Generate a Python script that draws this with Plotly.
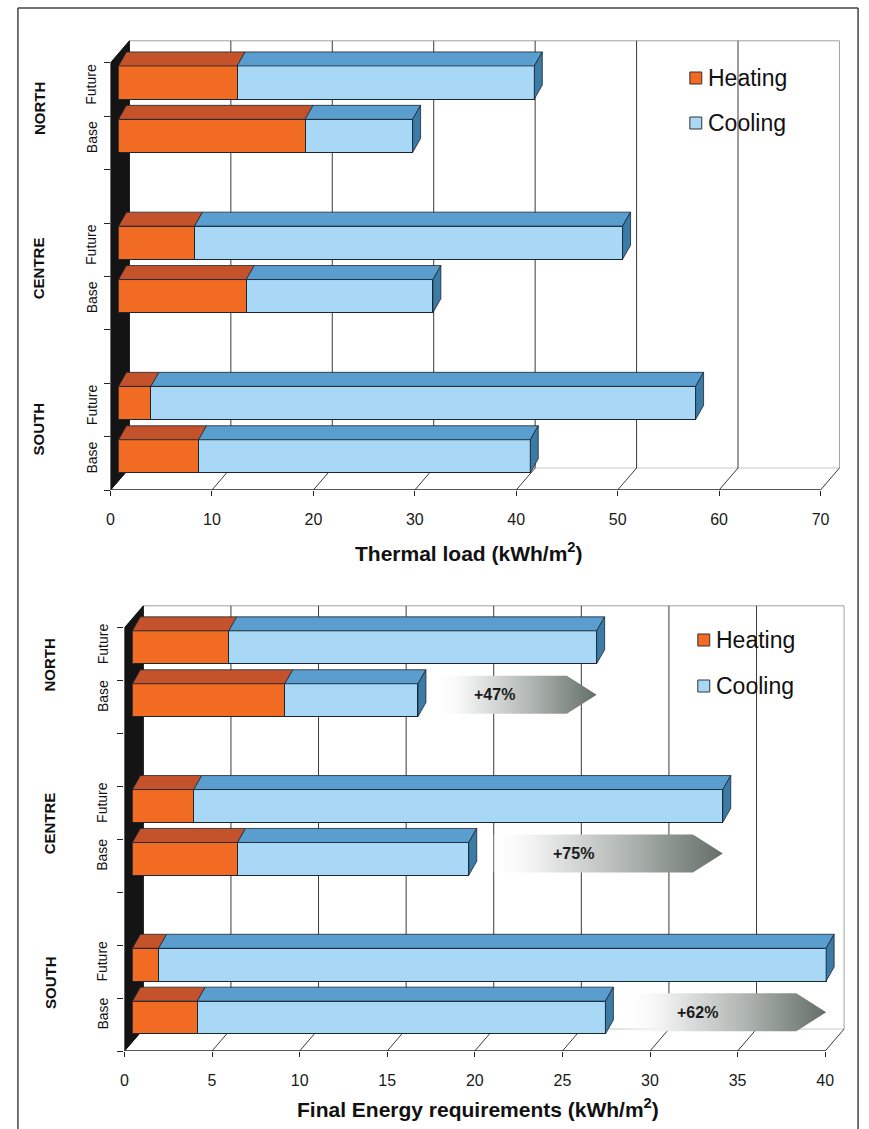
import plotly.graph_objects as go

W, H = 869, 1129

# Categories, listed bottom to top
regions = ["SOUTH", "CENTRE", "NORTH"]
scenarios = ["Base", "Future"]
series_names = ["Heating", "Cooling"]

# Thermal load (kWh/m2); order: SOUTH Base, SOUTH Future, CENTRE Base, CENTRE Future, NORTH Base, NORTH Future
load_heating = [7.9, 3.2, 12.6, 7.5, 18.4, 11.7]
load_cooling = [32.7, 53.7, 18.4, 42.2, 10.6, 29.3]

# Final energy requirements (kWh/m2), same order
energy_heating = [3.7, 1.5, 6.0, 3.5, 8.7, 5.5]
energy_cooling = [23.3, 38.1, 13.2, 30.2, 7.6, 21.0]

# Base -> Future increase labels (SOUTH, CENTRE, NORTH)
increase_labels = ["+62%", "+75%", "+47%"]

load_ticks = [0, 10, 20, 30, 40, 50, 60, 70]
energy_ticks = [0, 5, 10, 15, 20, 25, 30, 35, 40]

FONT = "Liberation Sans, Arial, sans-serif"
C = dict(
    heat_front="#F26B22", heat_top="#C4532C",
    cool_front="#A8D8F6", cool_top="#5A9ECF", cool_side="#3A7CA6",
    edge="#1c2630", wall="#141414", grid="#3a3a3a", light="#a0a0a0",
)


def fx(px):
    return px / W


def fy(py):
    return 1 - py / H


panels = [
    dict(front=("x", "y"), bars=("x2", "y2"), ox=107, oy=490, ppu=10.19, slot=53.4,
         ticks=load_ticks, heating=load_heating, cooling=load_cooling,
         title="Thermal load (kWh/m<sup>2</sup>)", title_xy=(467, 552),
         legend_xy=(695, 78, 123), lab_x=(35, 88), reg_off=1.15, sc_off=0.6),
    dict(front=("x3", "y3"), bars=("x4", "y4"), ox=121, oy=1051, ppu=17.6, slot=52.9,
         ticks=energy_ticks, heating=energy_heating, cooling=energy_cooling,
         title="Final Energy requirements (kWh/m<sup>2</sup>)", title_xy=(476, 1108),
         legend_xy=(703, 640, 686), lab_x=(46, 99), reg_off=1.3, sc_off=0.7),
]

BAR_DX, BAR_DY = 8, 7        # front face of bars vs. front plane (px)
FACE_DX, FACE_DY = 8, 14     # depth of a bar (px)
WALL_DX, WALL_DY = 19, 22    # depth of the chart box (px)
NSLOT = 8
YR = 8.5
BW = 0.62

pos = [3 * g + s + 0.5 for g in range(len(regions)) for s in range(len(scenarios))]

fig = go.Figure()
shapes, annotations = [], []
layout_axes = {}


def axname(ref):
    return ("xaxis" if ref[0] == "x" else "yaxis") + ref[1:]


for pi, P in enumerate(panels):
    fxr, fyr = P["front"]
    bxr, byr = P["bars"]
    ppu, slot, ox, oy = P["ppu"], P["slot"], P["ox"], P["oy"]
    xmax = P["ticks"][-1]
    xr = xmax + (WALL_DX + 3) / ppu
    xr_bar = xr - BAR_DX / ppu

    layout_axes[axname(fxr)] = dict(
        domain=[fx(ox), fx(ox + xr * ppu)], range=[0, xr], anchor=fyr,
        tickvals=P["ticks"], ticks="outside", ticklen=5, tickcolor="#222",
        tickfont=dict(family=FONT, size=16, color="#1a1a1a"), ticklabelstandoff=10,
        showgrid=False, zeroline=False, showline=False, fixedrange=True)
    layout_axes[axname(fyr)] = dict(
        domain=[fy(oy), fy(oy - YR * slot)], range=[0, YR], anchor=fxr,
        tickvals=list(range(NSLOT + 1)), showticklabels=False,
        ticks="outside", ticklen=6, tickcolor="#222",
        showgrid=False, zeroline=False, showline=False, fixedrange=True)
    layout_axes[axname(bxr)] = dict(
        domain=[fx(ox + BAR_DX), fx(ox + BAR_DX + xr_bar * ppu)], range=[0, xr_bar],
        anchor=byr, visible=False, showticklabels=False, fixedrange=True)
    layout_axes[axname(byr)] = dict(
        domain=[fy(oy - BAR_DY), fy(oy - BAR_DY - YR * slot)], range=[0, YR],
        anchor=bxr, visible=False, showticklabels=False, fixedrange=True)

    wdx, wdy = WALL_DX / ppu, WALL_DY / slot

    def fl(x0, y0, x1, y1, color, width=1, layer="below"):
        shapes.append(dict(type="line", xref=fxr, yref=fyr, x0=x0, y0=y0, x1=x1, y1=y1,
                           line=dict(color=color, width=width), layer=layer))

    # back wall: top and floor edges, gridlines
    fl(wdx, NSLOT + wdy, xmax + wdx, NSLOT + wdy, C["light"])
    fl(wdx, wdy, xmax + wdx, wdy, "#c8c8c8")
    for t in P["ticks"][1:]:
        fl(t + wdx, wdy, t + wdx, NSLOT + wdy, C["light"] if t == xmax else C["grid"])
    # floor: depth lines from every tick, front edge
    for t in P["ticks"]:
        fl(t, 0, t + wdx, wdy, C["grid"])
    fl(0, 0, xmax, 0, "#222", width=1.3)
    # left side wall
    shapes.append(dict(type="path", xref=fxr, yref=fyr, layer="below",
                       path=f"M 0,0 L 0,{NSLOT} L {wdx},{NSLOT + wdy} L {wdx},{wdy} Z",
                       fillcolor=C["wall"], line=dict(color=C["wall"], width=1)))

    # stacked bars (front faces)
    for name, vals, col in [("Heating", P["heating"], C["heat_front"]),
                            ("Cooling", P["cooling"], C["cool_front"])]:
        fig.add_trace(go.Bar(
            x=vals, y=pos, orientation="h", width=BW, name=name,
            marker=dict(color=col, line=dict(color=C["edge"], width=1)),
            xaxis=bxr, yaxis=byr, showlegend=False, hoverinfo="x+name"))

    # top and side faces of each bar
    ddx, ddy = FACE_DX / ppu, FACE_DY / slot
    for i, p in enumerate(pos):
        h, c = P["heating"][i], P["cooling"][i]
        yt, yb = p + BW / 2, p - BW / 2
        for a, b, col in [(0, h, C["heat_top"]), (h, h + c, C["cool_top"])]:
            shapes.append(dict(
                type="path", xref=bxr, yref=byr, layer="above",
                path=f"M {a},{yt} L {b},{yt} L {b + ddx},{yt + ddy} L {a + ddx},{yt + ddy} Z",
                fillcolor=col, line=dict(color=C["edge"], width=0.8)))
        e = h + c
        shapes.append(dict(
            type="path", xref=bxr, yref=byr, layer="above",
            path=f"M {e},{yb} L {e},{yt} L {e + ddx},{yt + ddy} L {e + ddx},{yb + ddy} Z",
            fillcolor=C["cool_side"], line=dict(color=C["edge"], width=0.8)))

    # category labels
    rx, sx = P["lab_x"]
    for g, reg in enumerate(regions):
        annotations.append(dict(
            text=f"<b>{reg}</b>", xref="paper", x=fx(rx), yref=fyr, y=3 * g + P["reg_off"],
            textangle=-90, showarrow=False, xanchor="center", yanchor="middle",
            font=dict(family=FONT, size=15, color="#111")))
        for s, sc in enumerate(scenarios):
            annotations.append(dict(
                text=sc, xref="paper", x=fx(sx), yref=fyr, y=3 * g + s + P["sc_off"],
                textangle=-90, showarrow=False, xanchor="center", yanchor="middle",
                font=dict(family=FONT, size=14, color="#111")))

    # axis title
    tx, ty = P["title_xy"]
    annotations.append(dict(
        text=f"<b>{P['title']}</b>", xref="paper", yref="paper", x=fx(tx), y=fy(ty),
        showarrow=False, xanchor="center", yanchor="middle",
        font=dict(family=FONT, size=21, color="#111")))

    # legend
    lx, ly1, ly2 = P["legend_xy"]
    for name, ly, col in [("Heating", ly1, C["heat_front"]), ("Cooling", ly2, C["cool_front"])]:
        shapes.append(dict(type="rect", xref="paper", yref="paper",
                           x0=fx(lx - 6), x1=fx(lx + 6), y0=fy(ly + 6), y1=fy(ly - 6),
                           fillcolor=col, line=dict(color="#333", width=1)))
        annotations.append(dict(
            text=name, xref="paper", yref="paper", x=fx(lx + 10), y=fy(ly),
            showarrow=False, xanchor="left", yanchor="middle",
            font=dict(family=FONT, size=23, color="#111")))

# increase arrows on the final energy chart, from Base total to Future total
P = panels[1]
bxr, byr = P["bars"]
head = 30 / P["ppu"]
half = 19 / P["slot"]
for g, lab in enumerate(increase_labels):
    base_tot = P["heating"][2 * g] + P["cooling"][2 * g]
    fut_tot = P["heating"][2 * g + 1] + P["cooling"][2 * g + 1]
    x0, x1 = base_tot + 0.8, fut_tot
    yc = 3 * g + 0.5 + 0.1
    fig.add_trace(go.Scatter(
        x=[x0, x1 - head, x1, x1 - head, x0, x0],
        y=[yc + half, yc + half, yc, yc - half, yc - half, yc + half],
        mode="lines", fill="toself", line=dict(width=0),
        fillgradient=dict(type="horizontal", colorscale=[
            [0, "rgba(255,255,255,0)"], [0.2, "rgba(242,243,242,1)"],
            [0.6, "#b0b6b3"], [1, "#646e69"]]),
        xaxis=bxr, yaxis=byr, showlegend=False, hoverinfo="skip"))
    annotations.append(dict(
        text=f"<b>{lab}</b>", xref=bxr, yref=byr, x=x0 + 0.38 * (x1 - x0), y=yc,
        showarrow=False, xanchor="center", yanchor="middle",
        font=dict(family=FONT, size=16, color="#1a1a1a")))

# outer frame
for x0, y0, x1, y1 in [(14, 8, 14, 1140), (858, 8, 858, 1140), (14, 8, 858, 8)]:
    shapes.append(dict(type="line", xref="paper", yref="paper",
                       x0=fx(x0), y0=fy(y0), x1=fx(x1), y1=fy(y1),
                       line=dict(color="#444", width=1.5)))

fig.update_layout(
    width=W, height=H, margin=dict(l=0, r=0, t=0, b=0),
    paper_bgcolor="white", plot_bgcolor="rgba(0,0,0,0)",
    barmode="stack", showlegend=False, font=dict(family=FONT),
    shapes=shapes, annotations=annotations, **layout_axes)

fig.write_html("out.html")
